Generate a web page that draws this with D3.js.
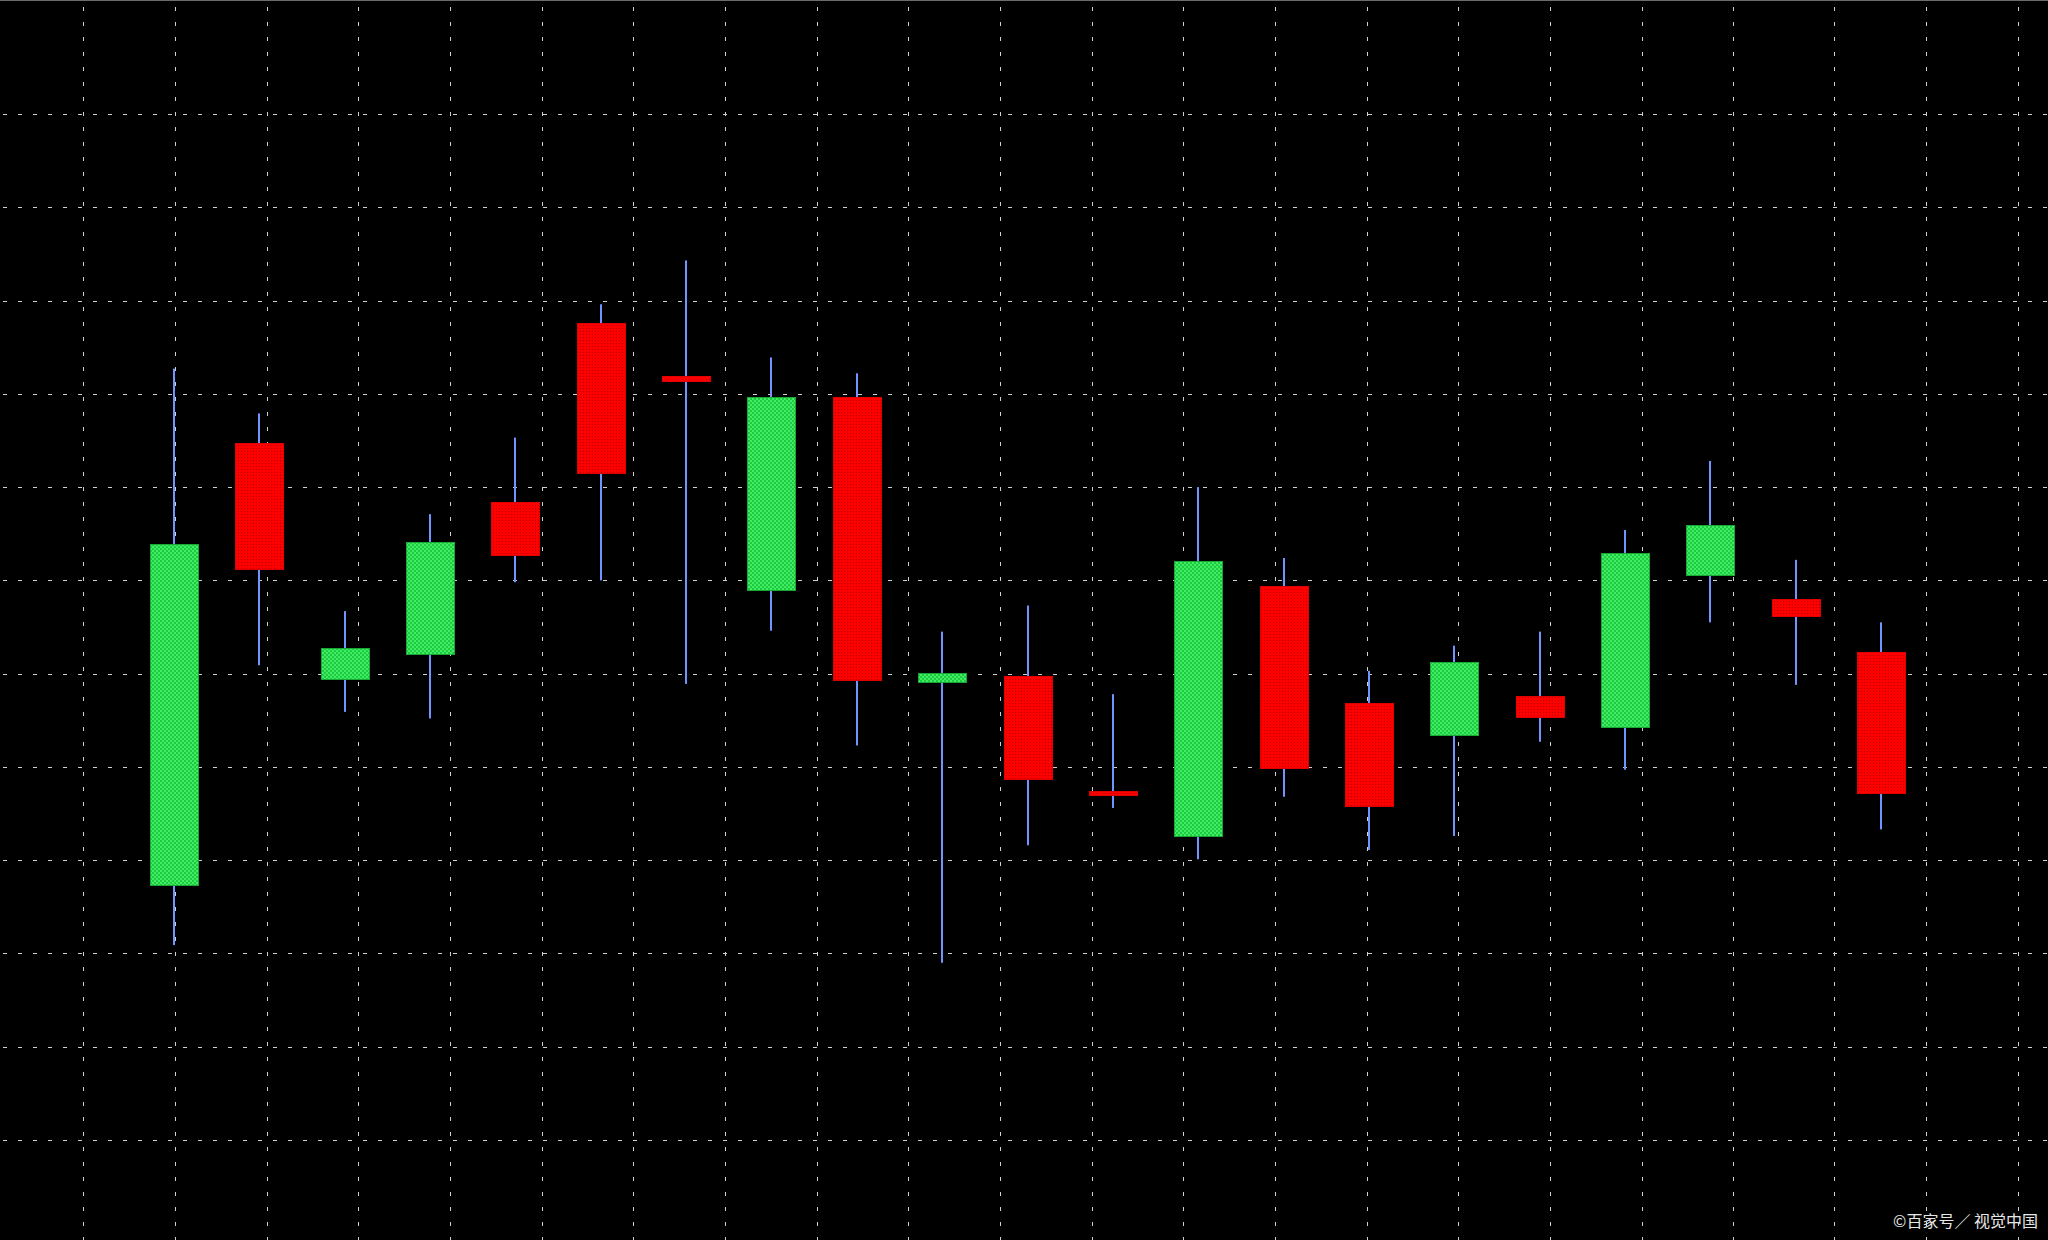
<!DOCTYPE html>
<html>
<head>
<meta charset="utf-8">
<script src="https://cdn.jsdelivr.net/npm/d3@7"></script>
<style>
  html, body { margin: 0; padding: 0; background: #000; overflow: hidden; }
  svg { display: block; }
</style>
</head>
<body>
<svg id="chart" width="2048" height="1240"></svg>
<script>
// ---- data ----
const bars   = d3.range(21);                 // bar index 0..20
const opens  = [127.3, 174.7, 149.4, 152.1, 168.4, 187.6, 181.9, 159.0, 179.7, 149.1, 149.8, 137.4, 132.6, 159.4, 146.8, 143.5, 147.6, 144.2, 160.5, 158.0, 152.3];
const highs  = [182.7, 177.9, 156.7, 167.1, 175.3, 189.6, 194.3, 183.9, 182.2, 154.5, 157.3, 147.8, 170.0, 162.4, 150.3, 153.0, 154.5, 165.4, 172.8, 162.2, 155.5];
const lows   = [120.9, 150.9, 145.9, 145.2, 159.8, 160.0, 148.9, 154.6, 142.3, 119.0, 131.6, 135.6, 130.1, 136.8, 131.1, 132.6, 142.7, 139.7, 155.5, 148.8, 133.3];
const closes = [163.9, 161.2, 152.7, 164.1, 162.7, 171.5, 181.4, 179.7, 149.4, 150.1, 138.8, 137.0, 162.1, 139.9, 135.8, 151.3, 145.4, 162.9, 165.9, 156.2, 137.2];
const gridPrices = [100, 110, 120, 130, 140, 150, 160, 170, 180, 190, 200, 210];
const gridTimes  = [0, 1, 2, 3, 4, 5, 6, 7, 8, 9, 10, 11, 12, 13, 14, 15, 16, 17, 18, 19.1, 20.1, 21.1];
const watermark = "©百家号／ 视觉中国";

const W = 2048, H = 1240;
const svg = d3.select("#chart");

const x = d3.scaleLinear().domain([0, 20]).range([174, 1881]);
const y = d3.scaleLinear().domain([100, 210]).range([1140, 114]);
const gx = d3.scaleLinear().domain([0, 21]).range([83.3, 2008.4]);

const candles = bars.map(i => ({ i, o: opens[i], h: highs[i], l: lows[i], c: closes[i] }));

// background
svg.append("rect").attr("width", W).attr("height", H).attr("fill", "#000");

// patterns
const defs = svg.append("defs");
const pg = defs.append("pattern").attr("id", "pGreen").attr("patternUnits", "userSpaceOnUse")
  .attr("width", 4).attr("height", 4);
pg.append("rect").attr("width", 4).attr("height", 4).attr("fill", "#3cf062");
pg.append("rect").attr("x", 0).attr("y", 0).attr("width", 2).attr("height", 2).attr("fill", "#22c844");
pg.append("rect").attr("x", 2).attr("y", 2).attr("width", 2).attr("height", 2).attr("fill", "#22c844");

const pr = defs.append("pattern").attr("id", "pRed").attr("patternUnits", "userSpaceOnUse")
  .attr("width", 3).attr("height", 3);
pr.append("rect").attr("width", 3).attr("height", 3).attr("fill", "#ff0000");
pr.append("rect").attr("x", 1).attr("y", 1).attr("width", 1).attr("height", 1).attr("fill", "#b80000");

// top border
svg.append("line").attr("x1", 0).attr("x2", W).attr("y1", 0.5).attr("y2", 0.5)
  .attr("stroke", "#6a6a6a").attr("stroke-width", 1);

// horizontal grid
svg.append("g").selectAll("line").data(gridPrices).join("line")
  .attr("x1", 3).attr("x2", W)
  .attr("y1", d => Math.round(y(d)) + 0.5).attr("y2", d => Math.round(y(d)) + 0.5)
  .attr("stroke", "#d0d0d0").attr("stroke-width", 1)
  .attr("stroke-dasharray", "4,11");

// vertical grid
svg.append("g").selectAll("line").data(gridTimes).join("line")
  .attr("y1", 7).attr("y2", H)
  .attr("x1", d => Math.round(gx(d)) + 0.5).attr("x2", d => Math.round(gx(d)) + 0.5)
  .attr("stroke", "#d0d0d0").attr("stroke-width", 1)
  .attr("stroke-dasharray", "4,11");

// wicks
svg.append("g").selectAll("rect").data(candles).join("rect")
  .attr("x", d => Math.round(x(d.i)) - 1)
  .attr("width", 2)
  .attr("y", d => y(d.h))
  .attr("height", d => y(d.l) - y(d.h))
  .attr("fill", "#7394ff");

// bodies
const bw = 48;
svg.append("g").selectAll("rect").data(candles).join("rect")
  .attr("x", d => Math.round(x(d.i)) - bw / 2 + 0.5)
  .attr("width", bw)
  .attr("y", d => Math.round(y(Math.max(d.o, d.c))) + 0.5)
  .attr("height", d => Math.max(3, Math.round(y(Math.min(d.o, d.c)) - y(Math.max(d.o, d.c)))))
  .attr("fill", d => d.c >= d.o ? "url(#pGreen)" : "url(#pRed)")
  .attr("stroke", d => d.c >= d.o ? "#1aa834" : "#e00000")
  .attr("stroke-width", 1);

// watermark
svg.append("text")
  .attr("x", 2038).attr("y", 1227)
  .attr("text-anchor", "end")
  .attr("font-family", "'Noto Sans CJK SC', 'Noto Sans', sans-serif")
  .attr("font-size", 16)
  .attr("fill", "#e6e6e6")
  .text(watermark);
</script>
</body>
</html>
